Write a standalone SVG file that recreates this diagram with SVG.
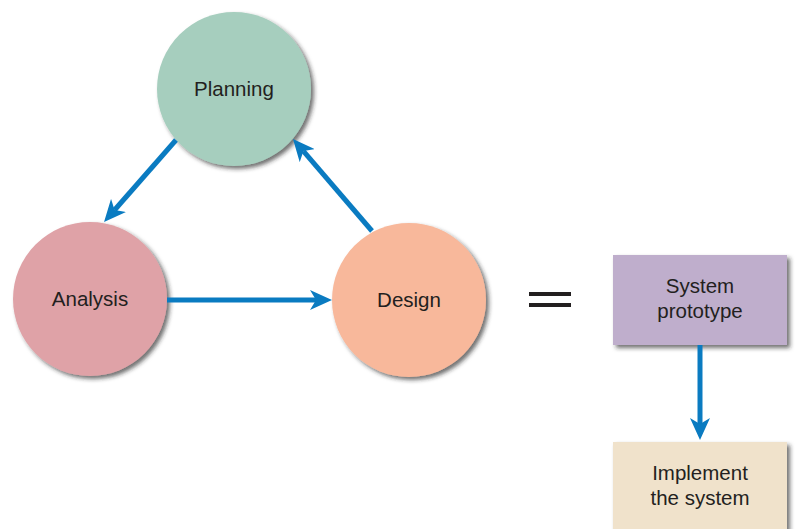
<svg xmlns="http://www.w3.org/2000/svg" width="795" height="529" viewBox="0 0 795 529">
<style>
.lbl{font-family:"Liberation Sans",Arial,sans-serif;font-size:20.5px;fill:#231f20;text-anchor:middle}
.conn{stroke:#0a7bc1;stroke-width:5;fill:none}
</style>
<defs>
<filter id="sh" x="-20%" y="-20%" width="150%" height="150%">
<feDropShadow dx="3" dy="3" stdDeviation="2" flood-color="#222" flood-opacity="0.65"/>
</filter>
<marker id="ah" viewBox="0 0 22 20" refX="6" refY="10" markerWidth="22" markerHeight="20" markerUnits="userSpaceOnUse" orient="auto">
<path d="M0,0 L22,10 L0,20 L6,10 Z" fill="#0a7bc1"/>
</marker>
</defs>
<rect width="795" height="529" fill="#fff"/>
<g id="planning">
<circle cx="234" cy="89" r="77" fill="#a6cebe" filter="url(#sh)"/>
<text class="lbl" x="234" y="96">Planning</text>
</g>
<g id="analysis">
<circle cx="90" cy="299" r="77" fill="#dfa2a7" filter="url(#sh)"/>
<text class="lbl" x="90" y="306">Analysis</text>
</g>
<g id="design">
<circle cx="409" cy="300" r="77" fill="#f8b89b" filter="url(#sh)"/>
<text class="lbl" x="409" y="307">Design</text>
</g>
<g id="equals">
<rect x="529" y="292" width="42" height="4" fill="#231f20"/>
<rect x="529" y="303" width="42" height="4" fill="#231f20"/>
</g>
<g id="prototype">
<rect x="613" y="255" width="174" height="90" fill="#bfaecc" filter="url(#sh)"/>
<text class="lbl" x="700" y="293">System</text>
<text class="lbl" x="700" y="318">prototype</text>
</g>
<g id="implement">
<rect x="613" y="442" width="174" height="100" fill="#f0e2cb" filter="url(#sh)"/>
<text class="lbl" x="700" y="480">Implement</text>
<text class="lbl" x="700" y="505">the system</text>
</g>
<g id="connectors">
<line class="conn" x1="176" y1="140" x2="114.6" y2="210" marker-end="url(#ah)"/>
<line class="conn" x1="372" y1="231" x2="303.4" y2="151.1" marker-end="url(#ah)"/>
<line class="conn" x1="167" y1="300" x2="316" y2="300" marker-end="url(#ah)"/>
<line class="conn" x1="700" y1="345" x2="700" y2="424" marker-end="url(#ah)"/>
</g>
</svg>
